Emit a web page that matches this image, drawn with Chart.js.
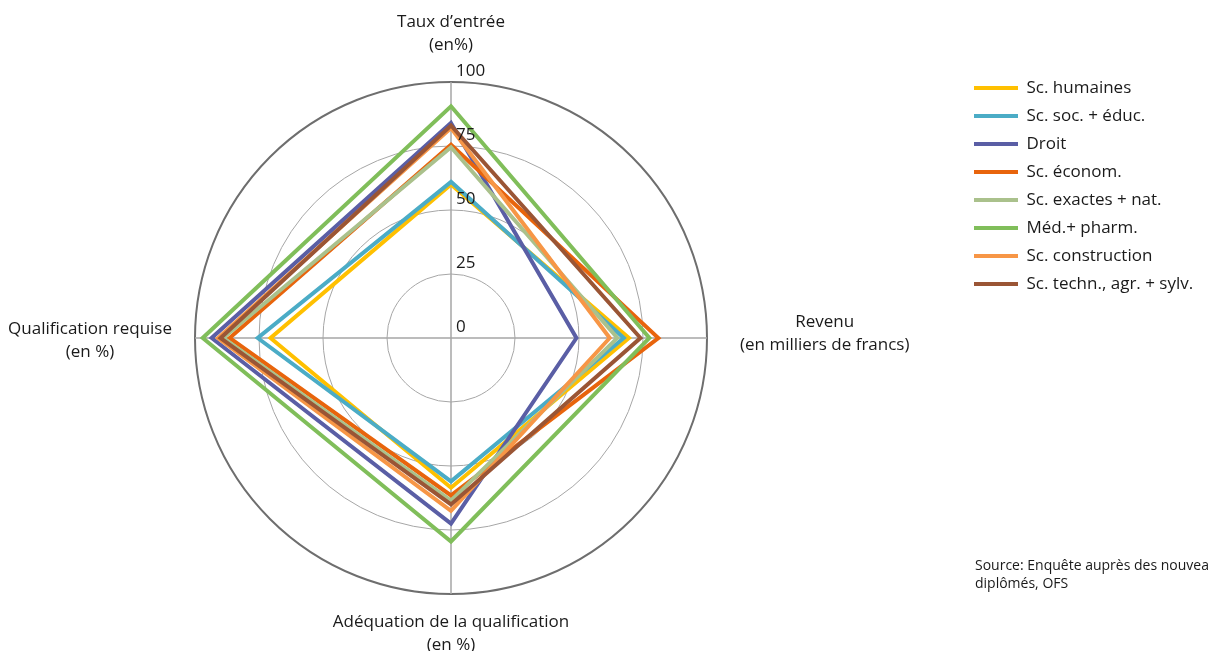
<!DOCTYPE html>
<html lang="fr">
<head>
<meta charset="utf-8">
<script src="https://cdn.jsdelivr.net/npm/chart.js@4.4.1/dist/chart.umd.min.js"></script>
<style>
  html, body { margin: 0; padding: 0; background: #fff; }
  #wrap { width: 1208px; height: 651px; }
</style>
</head>
<body>
<div id="wrap"><canvas id="radar" width="1208" height="651"></canvas></div>
<script>
// axes (clockwise from top)
const axes = [
    ['Taux d\u2019entrée', '(en%)'],
    ['Revenu', '(en milliers de francs)'],
    ['Adéquation de la qualification', '(en %)'],
    ['Qualification requise', '(en %)']
];
const tickValues = [0, 25, 50, 75, 100];

const scHumaines     = [60, 69.5, 58.5, 70.5];
const scSocEduc      = [61, 67.5, 56, 75.5];
const droit          = [84, 49, 72.5, 93.5];
const scEconom       = [75.5, 81, 61.5, 86.5];
const scExactes      = [74.5, 65, 63.5, 89];
const medPharm       = [90.5, 77.5, 79.5, 97];
const scConstruction = [82, 62, 67.5, 91];
const scTechn        = [83, 74, 65, 90];

const sourceLines = ['Source: Enquête auprès des nouveaux', 'diplômés, OFS'];

const FONT = '"Open Sans", "DejaVu Sans", sans-serif';
const TXT = '#1a1a1a';

const series = [
    ['Sc. humaines', scHumaines, '#FFC000'],
    ['Sc. soc. + éduc.', scSocEduc, '#4BACC6'],
    ['Droit', droit, '#5A5EA5'],
    ['Sc. économ.', scEconom, '#E8640C'],
    ['Sc. exactes + nat.', scExactes, '#AAC18C'],
    ['Méd.+ pharm.', medPharm, '#80BE5A'],
    ['Sc. construction', scConstruction, '#F79646'],
    ['Sc. techn., agr. + sylv.', scTechn, '#9A5535']
];

// paddings only used by the scale to size itself (labels are drawn below)
const layoutPad = [59, 218, 33, 158];
// gap between outer circle and drawn axis title, and vertical nudge
const titleGap = [25, 33, 17, 23];
const titleShift = [0, -4, 0, 3];

// draws the axis titles centred line by line, tick numbers and source
const labelsPlugin = {
    id: 'labelsPlugin',
    afterDraw(chart) {
        const ctx = chart.ctx;
        const r = chart.scales.r;
        ctx.save();
        ctx.fillStyle = TXT;
        ctx.textBaseline = 'middle';
        ctx.textAlign = 'center';
        ctx.font = '17px ' + FONT;
        const lh = 23;
        axes.forEach((lines, i) => {
            const p = r.getPointPosition(i, r.drawingArea + titleGap[i]);
            const bw = Math.max(...lines.map(t => ctx.measureText(t).width));
            const bh = lines.length * lh;
            let left, top;
            if (i === 0) { left = p.x - bw / 2; top = p.y - bh; }
            else if (i === 1) { left = p.x; top = p.y - bh / 2; }
            else if (i === 2) { left = p.x - bw / 2; top = p.y; }
            else { left = p.x - bw; top = p.y - bh / 2; }
            top += titleShift[i];
            lines.forEach((t, k) => {
                ctx.fillText(t, left + bw / 2, top + lh * (k + 0.5));
            });
        });

        ctx.textAlign = 'left';
        tickValues.forEach(v => {
            const d = r.getDistanceFromCenterForValue(v);
            ctx.fillText(String(v), r.xCenter + 5, r.yCenter - d - 11);
        });

        ctx.font = '14px ' + FONT;
        sourceLines.forEach((t, k) => {
            ctx.fillText(t, 975, 566 + k * 18);
        });
        ctx.restore();
    }
};

const ctx = document.getElementById('radar');
const myChart = new Chart(ctx, {
    type: 'radar',
    data: {
        labels: axes,
        datasets: series.map((s, i) => ({
            label: s[0],
            data: s[1],
            borderColor: s[2],
            backgroundColor: s[2],
            borderWidth: 4,
            borderJoinStyle: 'miter',
            borderCapStyle: 'butt',
            fill: false,
            pointRadius: 0,
            pointHoverRadius: 0,
            order: -i
        }))
    },
    options: {
        responsive: false,
        animation: false,
        devicePixelRatio: 1,
        layout: { padding: { top: 0, bottom: 0, left: 0, right: 12 } },
        plugins: {
            tooltip: { enabled: false },
            legend: {
                position: 'right',
                align: 'start',
                maxWidth: 233,
                title: { display: true, text: '', padding: { top: 58.5, bottom: 0 }, font: { size: 10, lineHeight: 1 } },
                labels: {
                    usePointStyle: true,
                    pointStyle: 'line',
                    pointStyleWidth: 44,
                    padding: 11,
                    color: TXT,
                    font: { family: FONT, size: 17 },
                    sort: (a, b) => a.datasetIndex - b.datasetIndex
                }
            }
        },
        scales: {
            r: {
                min: 0,
                max: 100,
                ticks: { stepSize: 25, display: false },
                grid: {
                    circular: true,
                    color: c => (c.tick && c.tick.value === 100) ? '#6E6E6E' : '#A6A6A6',
                    lineWidth: c => (c.tick && c.tick.value === 100) ? 2 : 1
                },
                angleLines: { color: '#A6A6A6', lineWidth: 1.5 },
                pointLabels: {
                    display: true,
                    callback: () => ' ',
                    color: 'rgba(0,0,0,0)',
                    font: { family: FONT, size: 10, lineHeight: 1 },
                    padding: c => layoutPad[c.index]
                }
            }
        }
    },
    plugins: [labelsPlugin]
});
</script>
</body>
</html>
